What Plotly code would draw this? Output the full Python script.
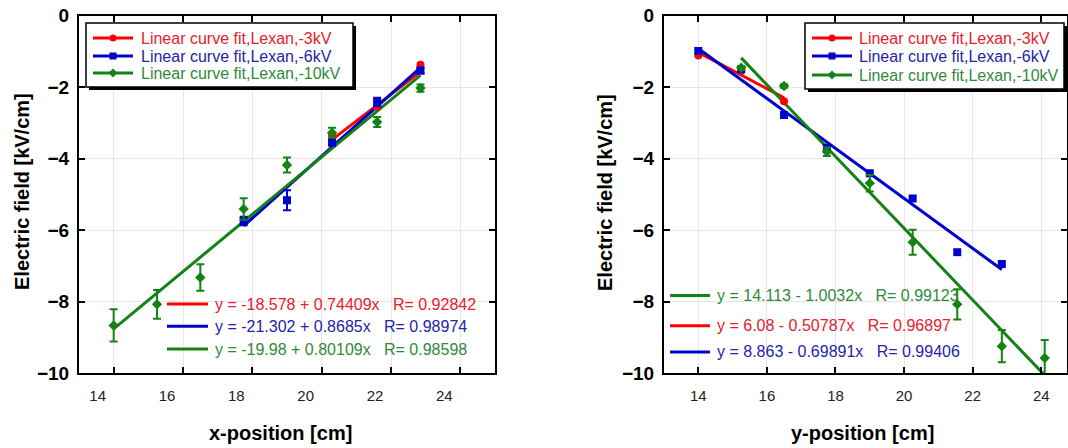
import plotly.graph_objects as go

# ---------------- data: left panel (x-position) ----------------
left_3kv_x = [20.3, 21.6, 22.85]
left_3kv_y = [-3.35, -2.55, -1.38]

left_6kv_x = [17.75, 19.0, 20.3, 21.6, 22.85]
left_6kv_y = [-5.75, -5.17, -3.54, -2.42, -1.54]
left_6kv_err = [0.12, 0.28, 0.10, 0.12, 0.08]

left_10kv_x = [14.0, 15.25, 16.5, 17.75, 19.0, 20.3, 21.6, 22.85]
left_10kv_y = [-8.67, -8.08, -7.33, -5.41, -4.18, -3.28, -2.98, -2.03]
left_10kv_err = [0.45, 0.40, 0.37, 0.30, 0.21, 0.14, 0.14, 0.10]

# fits (-3kV, -6kV, -10kV)
left_fit_intercept = [-18.578, -21.302, -19.98]
left_fit_slope = [0.74409, 0.8685, 0.80109]
left_fit_r = [0.92842, 0.98974, 0.98598]

# ---------------- data: right panel (y-position) ----------------
right_3kv_x = [14.0, 15.25, 16.5]
right_3kv_y = [-1.12, -1.55, -2.40]

right_6kv_x = [14.0, 15.25, 16.5, 17.75, 19.0, 20.25, 21.55, 22.85]
right_6kv_y = [-0.99, -1.50, -2.78, -3.70, -4.41, -5.12, -6.62, -6.95]

right_10kv_x = [15.25, 16.5, 17.75, 19.0, 20.25, 21.55, 22.85, 24.1]
right_10kv_y = [-1.46, -1.97, -3.81, -4.69, -6.34, -8.08, -9.25, -9.58]
right_10kv_err = [0.05, 0.05, 0.12, 0.23, 0.35, 0.42, 0.45, 0.50]

right_fit_intercept = [6.08, 8.863, 14.113]
right_fit_slope = [-0.50787, -0.69891, -1.0032]
right_fit_r = [0.96897, 0.99406, 0.99123]

series_names = ["Linear curve fit,Lexan,-3kV", "Linear curve fit,Lexan,-6kV",
                "Linear curve fit,Lexan,-10kV"]
y_ticks = [0, -2, -4, -6, -8, -10]
x_ticks = [14, 16, 18, 20, 22, 24]

# ---------------- styles ----------------
W, H = 1068, 448
line_colors = ["#ff0000", "#0000cc", "#148214"]
text_colors = ["#e8202c", "#2424a8", "#2f8a3a"]
symbols = ["circle", "square", "diamond"]
FONT = "Liberation Sans, Arial, sans-serif"


def px(x):
    return x / W


def py(y):
    return 1 - y / H


fig = go.Figure()


def fit_line(xs, a, b):
    x0, x1 = min(xs), max(xs)
    return [x0, x1], [a + b * x0, a + b * x1]


def eq_text(a, b, r):
    sign = "+" if b >= 0 else "-"
    return f"y = {a} {sign} {abs(b)}x\u00a0\u00a0\u00a0R= {r}"


panels = [
    dict(xa="x", ya="y",
         pts=[(left_3kv_x, left_3kv_y, None), (left_6kv_x, left_6kv_y, left_6kv_err),
              (left_10kv_x, left_10kv_y, left_10kv_err)],
         a=left_fit_intercept, b=left_fit_slope, r=left_fit_r),
    dict(xa="x2", ya="y2",
         pts=[(right_3kv_x, right_3kv_y, None), (right_6kv_x, right_6kv_y, None),
              (right_10kv_x, right_10kv_y, right_10kv_err)],
         a=right_fit_intercept, b=right_fit_slope, r=right_fit_r),
]

for p in panels:
    for i in range(3):
        xs, ys = fit_line(p["pts"][i][0], p["a"][i], p["b"][i])
        fig.add_trace(go.Scatter(x=xs, y=ys, mode="lines", xaxis=p["xa"], yaxis=p["ya"],
                                 line=dict(color=line_colors[i], width=3),
                                 name=series_names[i] + " (fit)",
                                 showlegend=False, hoverinfo="skip"))
    for i in range(3):
        xs, ys, err = p["pts"][i]
        fig.add_trace(go.Scatter(
            x=xs, y=ys, mode="markers", xaxis=p["xa"], yaxis=p["ya"],
            name=series_names[i],
            marker=dict(color=line_colors[i], symbol=symbols[i], size=8),
            error_y=dict(type="data", array=err, visible=err is not None,
                         color=line_colors[i], thickness=2, width=4),
            showlegend=False))

axis_common = dict(showline=True, linecolor="black", linewidth=2, mirror="ticks",
                   ticks="inside", ticklen=6, tickwidth=1.5, tickcolor="black",
                   showgrid=True, gridcolor="#e6e6e6", gridwidth=1, zeroline=False,
                   automargin=False)

ydom = [75 / H, 432.5 / H]
fig.update_layout(
    template="none",
    width=W, height=H,
    margin=dict(l=0, r=0, t=0, b=0, autoexpand=False),
    paper_bgcolor="white", plot_bgcolor="white",
    font=dict(family=FONT, color="black"),
    showlegend=False,
    xaxis=dict(domain=[79 / W, 495 / W], range=[13, 25], tickvals=x_ticks,
               tickfont=dict(size=15, color="#222"), ticklabelshift=-16,
               ticklabelstandoff=8, anchor="y", **axis_common),
    yaxis=dict(domain=ydom, range=[-10, 0], tickvals=y_ticks,
               tickfont=dict(size=19, weight="bold"), ticklabelstandoff=4,
               anchor="x", **axis_common),
    xaxis2=dict(domain=[664 / W, 1067 / W], range=[13, 24.75], tickvals=x_ticks,
                tickfont=dict(size=15, color="#222"), ticklabelstandoff=8,
                anchor="y2", **axis_common),
    yaxis2=dict(domain=ydom, range=[-10, 0], tickvals=y_ticks,
                tickfont=dict(size=19, weight="bold"), ticklabelstandoff=4,
                anchor="x2", **axis_common),
)

ann = []
shapes = []

# axis titles
title_common = dict(xref="paper", yref="paper", showarrow=False,
                    xanchor="center", yanchor="middle", font=dict(size=20))
ann.append(dict(text="<b>x-position [cm]</b>", x=px(280), y=py(433), **title_common))
ann.append(dict(text="<b>y-position [cm]</b>", x=px(862), y=py(433), **title_common))
ann.append(dict(text="<b>Electric field [kV/cm]</b>", x=px(22), y=py(192),
                textangle=-90, **title_common))
ann.append(dict(text="<b>Electric field [kV/cm]</b>", x=px(605), y=py(193),
                textangle=-90, **title_common))

# fit-equation keys: left (order red, blue, green), right (order green, red, blue)
eq_layout = [
    dict(xa="x", ya="y", order=[0, 1, 2], ys=[-8.07, -8.69, -9.33],
         lx=[0.2115, 0.310], tx=0.322,
         a=left_fit_intercept, b=left_fit_slope, r=left_fit_r),
    dict(xa="x2", ya="y2", order=[2, 0, 1], ys=[-7.83, -8.68, -9.41],
         lx=[0.015, 0.114], tx=0.127,
         a=right_fit_intercept, b=right_fit_slope, r=right_fit_r),
]
for e in eq_layout:
    for k, i in enumerate(e["order"]):
        yv = e["ys"][k]
        shapes.append(dict(type="line", xref=f"{e['xa']} domain", yref=e["ya"],
                           x0=e["lx"][0], x1=e["lx"][1], y0=yv, y1=yv,
                           line=dict(color=line_colors[i], width=3)))
        ann.append(dict(text=eq_text(e["a"][i], e["b"][i], e["r"][i]),
                        xref=f"{e['xa']} domain", yref=e["ya"], x=e["tx"], y=yv,
                        xanchor="left", yanchor="middle", showarrow=False,
                        font=dict(size=16, color=text_colors[i])))

# legend boxes (drawn as shapes + text), pixel geometry
legend_boxes = [
    dict(x0=86, x1=353, y0=23, y1=87, rows=[38, 56, 73], lx0=93, lx1=133, tx=139),
    dict(x0=805, x1=1064, y0=23, y1=89, rows=[38, 56, 75], lx0=812, lx1=852, tx=857),
]
for lb in legend_boxes:
    shapes.append(dict(type="rect", xref="paper", yref="paper", layer="above",
                       x0=px(lb["x0"] + 3), x1=px(lb["x1"] + 3),
                       y0=py(lb["y1"] + 3), y1=py(lb["y0"] + 3),
                       fillcolor="black", line=dict(width=0)))
    shapes.append(dict(type="rect", xref="paper", yref="paper", layer="above",
                       x0=px(lb["x0"]), x1=px(lb["x1"]), y0=py(lb["y1"]), y1=py(lb["y0"]),
                       fillcolor="white", line=dict(color="black", width=1.5)))
    for i in range(3):
        yr = lb["rows"][i]
        shapes.append(dict(type="line", xref="paper", yref="paper", layer="above",
                           x0=px(lb["lx0"]), x1=px(lb["lx1"]), y0=py(yr), y1=py(yr),
                           line=dict(color=line_colors[i], width=3)))
        cx = (lb["lx0"] + lb["lx1"]) / 2
        s = 3.5
        if symbols[i] == "circle":
            shapes.append(dict(type="circle", xref="paper", yref="paper", layer="above",
                               x0=px(cx - s), x1=px(cx + s), y0=py(yr + s), y1=py(yr - s),
                               fillcolor=line_colors[i], line=dict(width=0)))
        elif symbols[i] == "square":
            shapes.append(dict(type="rect", xref="paper", yref="paper", layer="above",
                               x0=px(cx - s), x1=px(cx + s), y0=py(yr + s), y1=py(yr - s),
                               fillcolor=line_colors[i], line=dict(width=0)))
        else:
            d = 4.5
            path = (f"M {px(cx - d)},{py(yr)} L {px(cx)},{py(yr - d)} "
                    f"L {px(cx + d)},{py(yr)} L {px(cx)},{py(yr + d)} Z")
            shapes.append(dict(type="path", xref="paper", yref="paper", layer="above",
                               path=path, fillcolor=line_colors[i], line=dict(width=0)))
        ann.append(dict(text=series_names[i], xref="paper", yref="paper",
                        x=px(lb["tx"]), y=py(yr), xanchor="left", yanchor="middle",
                        showarrow=False, font=dict(size=16, color=text_colors[i])))

fig.update_layout(annotations=ann, shapes=shapes)
fig.write_html("out.html", config={"displayModeBar": False},
               post_script="document.body.style.margin='0';document.body.style.overflow='hidden';")
